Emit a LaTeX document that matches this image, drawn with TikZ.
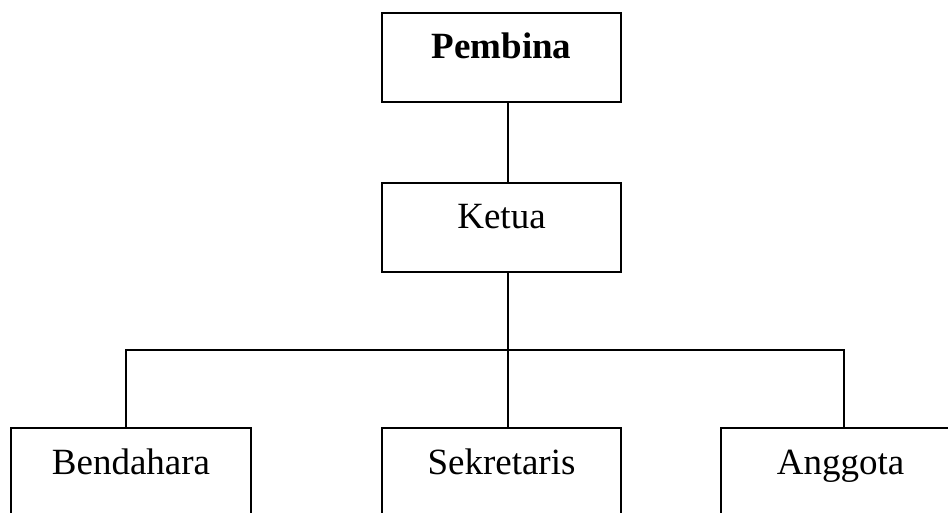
\documentclass[tikz,border=0pt]{standalone}
\usepackage{fontspec}
\setmainfont{Liberation Serif}
\usepackage{tikz}
\usetikzlibrary{positioning}

\begin{document}
\begin{tikzpicture}[
  x=1pt, y=-1pt,
  every node/.style={font=\fontsize{37}{44}\selectfont},
  orgbox/.style={
    draw=black, line width=2pt, fill=white, anchor=north west,
    minimum width=239pt, inner sep=0pt,
    text height=46pt, text depth=43pt,
  },
  link/.style={line width=2pt},
]
  \clip (0,0) rectangle (948,513);

  \node[orgbox] (pembina) at (381, 12) {\textbf{Pembina}};
  \node[orgbox] (ketua) at (381, 182) {Ketua};
  \node[orgbox, minimum width=240pt] (bendahara) at (10, 427) {Bendahara};
  \node[orgbox] (sekretaris) at (381, 427) {Sekretaris};
  \node[orgbox] (anggota) at (720, 427) {Anggota};

  \coordinate (barL) at (126, 350);
  \coordinate (barR) at (844, 350);

  \draw[link] ([xshift=6]pembina.south) -- ([xshift=6]ketua.north);
  \draw[link] ([xshift=6]ketua.south) -- ([xshift=6]sekretaris.north);
  \draw[link] (bendahara.north -| barL) -- (barL) -- (barR) -- (anggota.north -| barR);
\end{tikzpicture}
\end{document}
